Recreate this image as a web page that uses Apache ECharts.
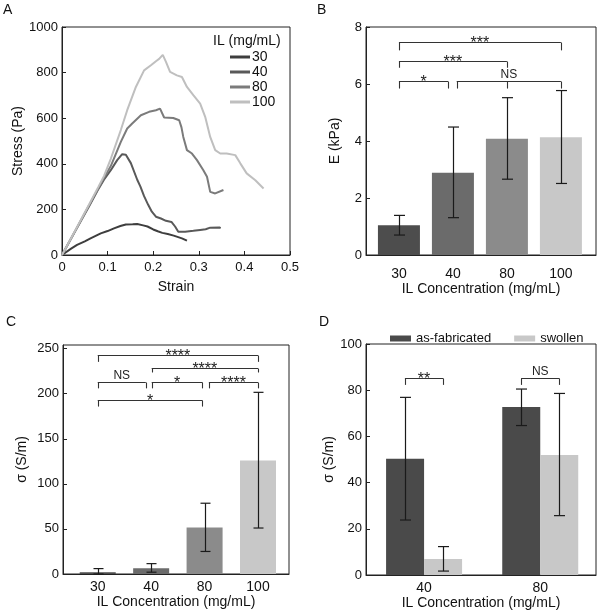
<!DOCTYPE html>
<html><head><meta charset="utf-8">
<script src="https://cdn.jsdelivr.net/npm/echarts@6/dist/echarts.min.js"></script>
<style>html,body{margin:0;padding:0;background:#fff}#c{width:600px;height:616px}</style>
</head><body><div id="c"></div>
<script>
const FONT = "'Liberation Sans', Arial, Helvetica, sans-serif";

// ---------- Panel A: stress-strain curves ----------
const curveNames = ['30', '40', '80', '100'];
const curve30 = [[0,0],[0.02,28],[0.033,44],[0.05,60],[0.0625,73],[0.085,95],[0.1,105],[0.114,117],[0.128,127],[0.14,134],[0.155,135],[0.165,136],[0.178,130],[0.1875,125],[0.2,112],[0.21,104],[0.22,97],[0.232,92],[0.245,85],[0.263,73],[0.274,63]];
const curve40 = [[0,0],[0.03,108],[0.06,216],[0.08,290],[0.092,330],[0.107,372],[0.121,416],[0.132,442],[0.14,440],[0.151,403],[0.165,330],[0.172,300],[0.18,258],[0.189,220],[0.197,190],[0.206,168],[0.217,160],[0.228,150],[0.24,145],[0.248,125],[0.255,102],[0.27,102],[0.288,106],[0.303,110],[0.315,113],[0.325,120],[0.345,121],[0.348,118]];
const curve80 = [[0,0],[0.03,110],[0.06,220],[0.08,293],[0.092,338],[0.107,390],[0.129,496],[0.143,555],[0.154,577],[0.173,613],[0.191,628],[0.206,635],[0.215,642],[0.224,603],[0.244,601],[0.257,591],[0.262,560],[0.266,518],[0.274,460],[0.285,445],[0.296,416],[0.31,372],[0.318,343],[0.325,277],[0.336,270],[0.354,285]];
const curve100 = [[0,0],[0.03,111],[0.06,224],[0.08,300],[0.092,346],[0.107,422],[0.129,548],[0.143,635],[0.162,737],[0.18,810],[0.195,832],[0.206,850],[0.213,860],[0.221,878],[0.228,847],[0.237,803],[0.252,788],[0.263,781],[0.274,737],[0.288,701],[0.303,664],[0.314,606],[0.325,518],[0.336,460],[0.347,445],[0.361,445],[0.38,438],[0.391,402],[0.405,358],[0.424,328],[0.442,292]];
const curves = [curve30, curve40, curve80, curve100];
const lineColors = ['#3e3e3e', '#595959', '#7b7b7b', '#bfbfbf'];

// ---------- Panel B: modulus ----------
const concCats = ['30', '40', '80', '100'];
const modulusE = [1.04, 2.89, 4.08, 4.13];
const modulusLow = [0.70, 1.31, 2.66, 2.51];
const modulusHigh = [1.39, 4.49, 5.52, 5.77];
const barColors = ['#4d4d4d', '#6b6b6b', '#8b8b8b', '#c8c8c8'];
const bracketsB = [
  {legs: [1, 1.91], y: 6.12, low: 5.84, text: '*'},
  {legs: [2.07, 3, 4], y: 6.12, low: 5.84, text: 'NS'},
  {legs: [1, 3], y: 6.8, low: 6.57, text: '***'},
  {legs: [1, 4], y: 7.46, low: 7.18, text: '***'}
];

// ---------- Panel C: conductivity ----------
const sigma = [2, 6.5, 51.5, 126];
const sigmaLow = [0, 2, 25, 51];
const sigmaHigh = [6, 11.5, 78.5, 201.5];
const bracketsC = [
  {legs: [1, 4], y: 242.5, low: 235.3, text: '****'},
  {legs: [2.01, 4], y: 229, low: 223.5, text: '****'},
  {legs: [1, 1.9], y: 213.2, low: 205.9, text: 'NS'},
  {legs: [2.01, 2.96], y: 213.2, low: 205.9, text: '*'},
  {legs: [3.08, 4], y: 213.2, low: 205.9, text: '****'},
  {legs: [1, 2.96], y: 193, low: 185.7, text: '*'}
];

// ---------- Panel D: as-fabricated vs swollen ----------
const dCats = ['40', '80'];
const dNames = ['as-fabricated', 'swollen'];
const asFab = [50.3, 72.7];
const asFabLow = [23.8, 64.7];
const asFabHigh = [76.9, 80.5];
const swollen = [6.9, 52.0];
const swollenLow = [1.7, 25.7];
const swollenHigh = [12.3, 78.6];
const dColors = ['#4a4a4a', '#c8c8c8'];
const bracketsD = [
  {legs: [0.835, 1.165], y: 85.2, low: 82.3, text: '**'},
  {legs: [1.835, 2.165], y: 85.2, low: 82.3, text: 'NS'}
];

// ---------- helpers ----------
const AX = '#222';
function errSeries(xi, yi, lows, highs, capW, offsetPx) {
  return {
    type: 'custom', xAxisIndex: xi, yAxisIndex: yi, z: 5, silent: true,
    data: lows.map((l, i) => [i + 1, l, highs[i]]),
    encode: {x: 0, y: [1, 2]},
    renderItem: function (params, api) {
      const pLo = api.coord([api.value(0), api.value(1)]);
      const pHi = api.coord([api.value(0), api.value(2)]);
      const cx = Math.round(pLo[0] + offsetPx) + 0.5;
      const st = {stroke: '#1a1a1a', lineWidth: 1.2};
      return {type: 'group', children: [
        {type: 'line', shape: {x1: cx, y1: pHi[1], x2: cx, y2: pLo[1]}, style: st},
        {type: 'line', shape: {x1: cx - capW / 2, y1: pHi[1], x2: cx + capW / 2, y2: pHi[1]}, style: st},
        {type: 'line', shape: {x1: cx - capW / 2, y1: pLo[1], x2: cx + capW / 2, y2: pLo[1]}, style: st}
      ]};
    }
  };
}
function bracketSeries(xi, yi, brs) {
  return {
    type: 'custom', xAxisIndex: xi, yAxisIndex: yi, z: 6, silent: true,
    data: brs.map(b => [b.legs[0], b.legs[b.legs.length - 1], b.y, b.low]),
    encode: {x: [0, 1], y: [2, 3]},
    renderItem: function (params, api) {
      const b = brs[params.dataIndex];
      const st = {stroke: '#333', lineWidth: 1.1, fill: null};
      const children = [];
      const pL = api.coord([b.legs[0], b.y]);
      const pR = api.coord([b.legs[b.legs.length - 1], b.y]);
      const yTop = Math.round(pL[1]) + 0.5;
      children.push({type: 'line', shape: {x1: pL[0], y1: yTop, x2: pR[0], y2: yTop}, style: st});
      b.legs.forEach(lx => {
        const p = api.coord([lx, b.low]);
        const xx = Math.round(p[0]) + 0.5;
        children.push({type: 'line', shape: {x1: xx, y1: yTop, x2: xx, y2: p[1]}, style: st});
      });
      const star = b.text.indexOf('*') >= 0;
      children.push({type: 'text', style: {
        text: b.text, x: (pL[0] + pR[0]) / 2, y: star ? yTop + 9 : yTop - 1,
        align: 'center', verticalAlign: 'bottom',
        fontFamily: FONT, fontSize: star ? 16 : 12, fill: '#222'
      }});
      return {type: 'group', children: children};
    }
  };
}
function valAxis(gi, min, max, interval, name, gap, extra) {
  return Object.assign({
    type: 'value', gridIndex: gi, min: min, max: max, interval: interval,
    name: name, nameLocation: 'middle', nameGap: gap,
    nameTextStyle: {fontFamily: FONT, fontSize: 14, color: '#111'},
    axisLine: {show: true, lineStyle: {color: AX, width: 1}},
    axisTick: {show: true, inside: true, length: 4, lineStyle: {color: AX}},
    axisLabel: {fontFamily: FONT, fontSize: 13, color: '#111', margin: 4, formatter: v => String(v)},
    splitLine: {show: false}
  }, extra || {});
}
function catLikeAxis(gi, min, max, cats, name, gap, margin) {
  return {
    type: 'value', gridIndex: gi, min: min, max: max,
    name: name, nameLocation: 'middle', nameGap: gap,
    nameTextStyle: {fontFamily: FONT, fontSize: 14, color: '#111'},
    axisLine: {show: true, lineStyle: {color: AX, width: 1}},
    axisTick: {show: false},
    axisLabel: {fontFamily: FONT, fontSize: 14, color: '#111', margin: margin,
      customValues: cats.map((c, i) => i + 1),
      formatter: v => cats[Math.round(v) - 1]},
    splitLine: {show: false}
  };
}

const gridStyle = {show: true, borderColor: AX, borderWidth: 1, backgroundColor: 'transparent', containLabel: false};

const option = {
  animation: false,
  backgroundColor: '#fff',
  textStyle: {fontFamily: FONT},
  grid: [
    Object.assign({left: 62, top: 27, width: 228, height: 228}, gridStyle),
    Object.assign({left: 366, top: 27, width: 230, height: 228}, gridStyle),
    Object.assign({left: 63, top: 345, width: 226, height: 229}, gridStyle),
    Object.assign({left: 366, top: 344, width: 230, height: 231}, gridStyle)
  ],
  xAxis: [
    valAxis(0, 0, 0.5, 0.1, 'Strain', 25, {axisLabel: {fontFamily: FONT, fontSize: 13, color: '#111', margin: 6, formatter: v => String(v)}}),
    catLikeAxis(1, 0.39, 4.65, concCats, 'IL Concentration (mg/mL)', 24, 12),
    catLikeAxis(2, 0.35, 4.58, concCats, 'IL Concentration (mg/mL)', 17, 6),
    catLikeAxis(3, 0.5, 2.48, dCats, 'IL Concentration (mg/mL)', 17, 6)
  ],
  yAxis: [
    valAxis(0, 0, 1000, 200, 'Stress (Pa)', 36),
    valAxis(1, 0, 8, 2, 'E (kPa)', 24),
    valAxis(2, 0, 254, 50, 'σ (S/m)', 34),
    valAxis(3, 0, 100, 20, 'σ (S/m)', 26)
  ],
  legend: [
    {
      data: curveNames, orient: 'vertical', left: 225, top: 45, itemGap: 1,
      itemWidth: 20, itemHeight: 3, icon: 'rect',
      textStyle: {fontFamily: FONT, fontSize: 14, color: '#111', padding: [0, 0, 0, -3]}
    },
    {
      data: dNames, orient: 'horizontal', left: 385, top: 327, itemGap: 23,
      itemWidth: 21, itemHeight: 6, icon: 'rect',
      textStyle: {fontFamily: FONT, fontSize: 13, color: '#111'}
    }
  ],
  graphic: [
    {type: 'text', left: 3, top: 3, style: {text: 'A', fontFamily: FONT, fontSize: 14, fill: '#111'}},
    {type: 'text', left: 317, top: 3, style: {text: 'B', fontFamily: FONT, fontSize: 14, fill: '#111'}},
    {type: 'text', left: 6, top: 315, style: {text: 'C', fontFamily: FONT, fontSize: 14, fill: '#111'}},
    {type: 'text', left: 319, top: 315, style: {text: 'D', fontFamily: FONT, fontSize: 14, fill: '#111'}},
    {type: 'text', left: 213, top: 34, style: {text: 'IL (mg/mL)', fontFamily: FONT, fontSize: 14, fill: '#111'}}
  ],
  series: [
    ...curves.map((c, i) => ({
      type: 'line', name: curveNames[i], xAxisIndex: 0, yAxisIndex: 0,
      data: c, showSymbol: false, symbol: 'none', smooth: false,
      lineStyle: {color: lineColors[i], width: 2}, itemStyle: {color: lineColors[i]}
    })),
    {
      type: 'bar', xAxisIndex: 1, yAxisIndex: 1, barWidth: 42,
      data: modulusE.map((v, i) => ({value: [i + 1, v], itemStyle: {color: barColors[i]}}))
    },
    errSeries(1, 1, modulusLow, modulusHigh, 11, 0),
    bracketSeries(1, 1, bracketsB),
    {
      type: 'bar', xAxisIndex: 2, yAxisIndex: 2, barWidth: 36,
      data: sigma.map((v, i) => ({value: [i + 1, v], itemStyle: {color: barColors[i]}}))
    },
    errSeries(2, 2, sigmaLow, sigmaHigh, 10, 0),
    bracketSeries(2, 2, bracketsC),
    {
      type: 'bar', name: dNames[0], xAxisIndex: 3, yAxisIndex: 3, barWidth: 38, barGap: '0%',
      itemStyle: {color: dColors[0]},
      data: asFab.map((v, i) => [i + 1, v])
    },
    {
      type: 'bar', name: dNames[1], xAxisIndex: 3, yAxisIndex: 3, barWidth: 38, barGap: '0%',
      itemStyle: {color: dColors[1]},
      data: swollen.map((v, i) => [i + 1, v])
    },
    errSeries(3, 3, asFabLow, asFabHigh, 11, -19),
    errSeries(3, 3, swollenLow, swollenHigh, 11, 19),
    bracketSeries(3, 3, bracketsD)
  ]
};

const chart = echarts.init(document.getElementById('c'), null, {renderer: 'canvas'});
chart.setOption(option);
</script>
</body></html>
